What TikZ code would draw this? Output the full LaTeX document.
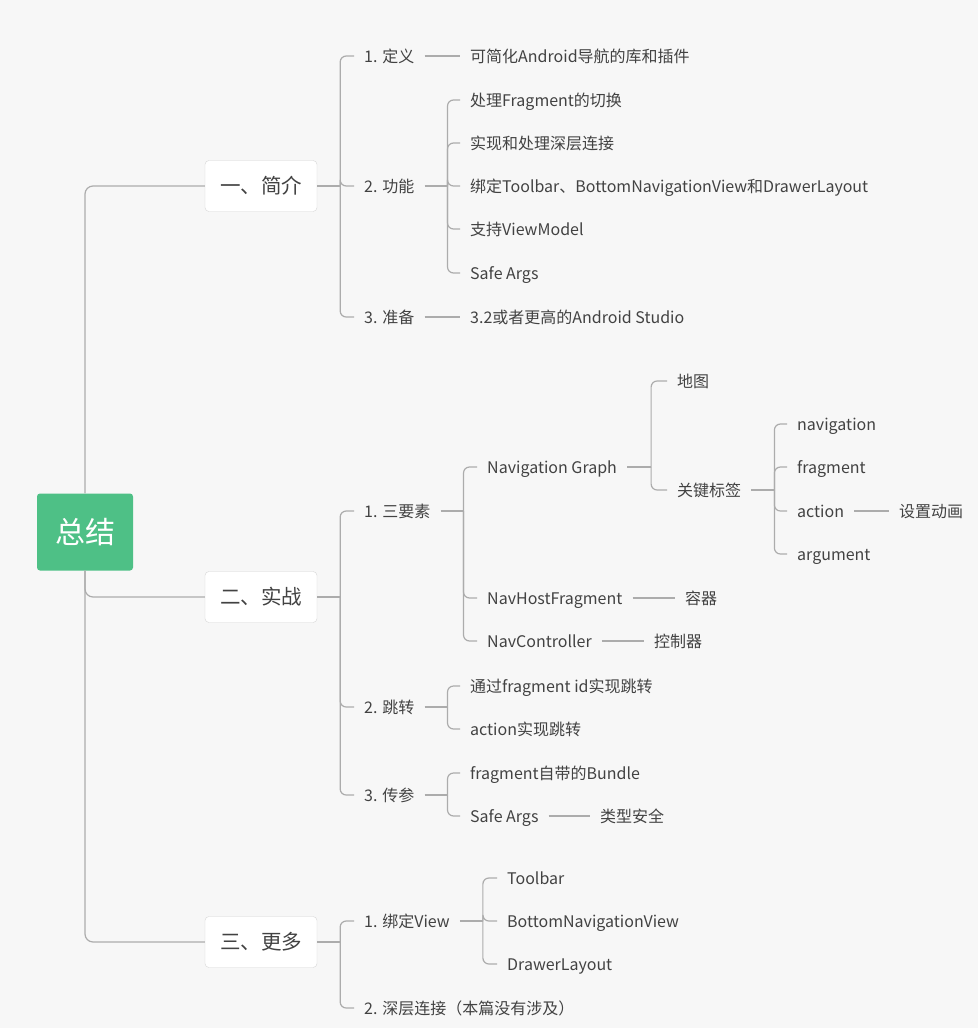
\documentclass[tikz,border=0pt]{standalone}
\usepackage{fontspec}
\setmainfont{Noto Sans CJK SC}
\usetikzlibrary{positioning}
\definecolor{rootgreen}{RGB}{78,192,134}
\definecolor{linegray}{RGB}{172,172,172}
\definecolor{boxgray}{RGB}{214,214,214}
\definecolor{textgray}{RGB}{66,66,66}
\definecolor{paper}{RGB}{247,247,247}

\begin{document}
\begin{tikzpicture}[x=1pt,y=-1pt,
    root/.style={fill=rootgreen,rounded corners=3pt,text=white,minimum width=96pt,
                 minimum height=77pt,font=\fontsize{30}{33}\selectfont},
    topic/.style={draw=boxgray,fill=white,rounded corners=4pt,minimum width=112pt,
                  minimum height=51pt,text=textgray,font=\fontsize{20.5}{24}\selectfont},
    leaf/.style={anchor=west,inner xsep=10pt,inner ysep=2pt,text height=12pt,text depth=0pt,
                 text=textgray,font=\fontsize{16}{19}\selectfont},
    link/.style={draw=linegray,line width=1.2pt,rounded corners=6pt}
  ]
    \fill[paper] (0,0) rectangle (978,1028);
    \useasboundingbox (0,0) rectangle (978,1028);

    \node[root] (root) at (85,532) {总结};
    \node[topic] (intro) at (261,186) {一、简介};
    \node[topic] (practice) at (261,597) {二、实战};
    \node[topic] (more) at (261,942) {三、更多};

    % 一、简介
    \node[leaf] (def) at (354,56) {1. 定义};
    \node[leaf] (func) at (354,186) {2. 功能};
    \node[leaf] (prep) at (354,317) {3. 准备};
    \node[leaf] (defText) at (460,56) {可简化Android导航的库和插件};
    \node[leaf] (f1) at (460,100) {处理Fragment的切换};
    \node[leaf] (f2) at (460,143) {实现和处理深层连接};
    \node[leaf] (f3) at (460,186) {绑定Toolbar、BottomNavigationView和DrawerLayout};
    \node[leaf] (f4) at (460,229) {支持ViewModel};
    \node[leaf] (f5) at (460,273) {Safe Args};
    \node[leaf] (prepText) at (460,317) {3.2或者更高的Android Studio};

    % 二、实战
    \node[leaf] (three) at (354,511) {1. 三要素};
    \node[leaf] (jump) at (354,707) {2. 跳转};
    \node[leaf] (param) at (354,795) {3. 传参};
    \node[leaf] (graph) at (477,467) {Navigation Graph};
    \node[leaf] (host) at (477,598) {NavHostFragment};
    \node[leaf] (ctrl) at (477,641) {NavController};
    \node[leaf] (map) at (667,381) {地图};
    \node[leaf] (tags) at (667,490) {关键标签};
    \node[leaf] (tnav) at (787,424) {navigation};
    \node[leaf] (tfrag) at (787,467) {fragment};
    \node[leaf] (tact) at (787,511) {action};
    \node[leaf] (targ) at (787,554) {argument};
    \node[leaf] (anim) at (889,511) {设置动画};
    \node[leaf] (hostText) at (675,598) {容器};
    \node[leaf] (ctrlText) at (644,641) {控制器};
    \node[leaf] (j1) at (460,686) {通过fragment id实现跳转};
    \node[leaf] (j2) at (460,729) {action实现跳转};
    \node[leaf] (p1) at (460,773) {fragment自带的Bundle};
    \node[leaf] (p2) at (460,816) {Safe Args};
    \node[leaf] (p2Text) at (590,816) {类型安全};

    % 三、更多
    \node[leaf] (bind) at (354,921) {1. 绑定View};
    \node[leaf] (deep) at (354,1008) {2. 深层连接（本篇没有涉及）};
    \node[leaf] (b1) at (497,878) {Toolbar};
    \node[leaf] (b2) at (497,921) {BottomNavigationView};
    \node[leaf] (b3) at (497,964) {DrawerLayout};

    % root branches
    \draw[link,rounded corners=8pt] (root.north) |- (intro.west);
    \draw[link,rounded corners=8pt] (root.south) |- (practice.west);
    \draw[link,rounded corners=8pt] (root.south) |- (more.west);

    % brackets
    \draw[link] (intro.east) -- ++(23,0) coordinate (intro-j);
    \foreach \c in {def,func,prep} \draw[link] (intro-j) |- (\c.west);
    \draw[link] (func.east) -- ++(23,0) coordinate (func-j);
    \foreach \c in {f1,f2,f3,f4,f5} \draw[link] (func-j) |- (\c.west);
    \draw[link] (def.east) -- (defText.west);
    \draw[link] (prep.east) -- (prepText.west);

    \draw[link] (practice.east) -- ++(23,0) coordinate (practice-j);
    \foreach \c in {three,jump,param} \draw[link] (practice-j) |- (\c.west);
    \draw[link] (three.east) -- ++(23,0) coordinate (three-j);
    \foreach \c in {graph,host,ctrl} \draw[link] (three-j) |- (\c.west);
    \draw[link] (graph.east) -- ++(24,0) coordinate (graph-j);
    \foreach \c in {map,tags} \draw[link] (graph-j) |- (\c.west);
    \draw[link] (tags.east) -- ++(23,0) coordinate (tags-j);
    \foreach \c in {tnav,tfrag,tact,targ} \draw[link] (tags-j) |- (\c.west);
    \draw[link] (tact.east) -- (anim.west);
    \draw[link] (host.east) -- (hostText.west);
    \draw[link] (ctrl.east) -- (ctrlText.west);
    \draw[link] (jump.east) -- ++(23,0) coordinate (jump-j);
    \foreach \c in {j1,j2} \draw[link] (jump-j) |- (\c.west);
    \draw[link] (param.east) -- ++(23,0) coordinate (param-j);
    \foreach \c in {p1,p2} \draw[link] (param-j) |- (\c.west);
    \draw[link] (p2.east) -- (p2Text.west);

    \draw[link] (more.east) -- ++(23,0) coordinate (more-j);
    \foreach \c in {bind,deep} \draw[link] (more-j) |- (\c.west);
    \draw[link] (bind.east) -- ++(23,0) coordinate (bind-j);
    \foreach \c in {b1,b2,b3} \draw[link] (bind-j) |- (\c.west);
  \end{tikzpicture}
\end{document}
